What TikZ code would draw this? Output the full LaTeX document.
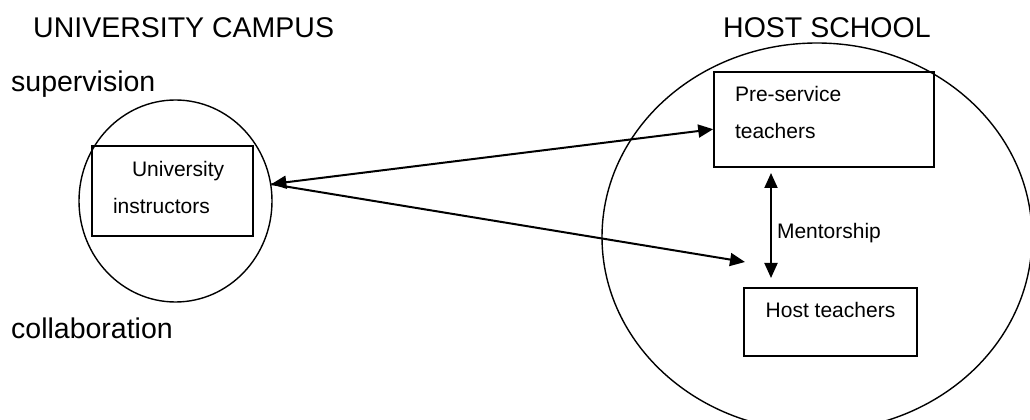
\documentclass[tikz,border=0pt]{standalone}
\usepackage{fontspec}
\setmainfont{Liberation Sans}
\usepackage{tikz}
\usetikzlibrary{positioning,shapes.geometric,arrows.meta}

\begin{document}
\begin{tikzpicture}[
    x=1pt, y=1pt,
    zone/.style={
      ellipse, draw=black, line width=1.4pt, inner sep=0pt
    },
    box/.style={
      rectangle, draw=black, line width=1.6pt,
      font=\fontsize{21}{37}\selectfont
    },
    heading/.style={anchor=base west, inner sep=0pt, font=\fontsize{28.5}{34}\selectfont},
    arrow/.style={line width=2pt, -{Triangle[length=15pt,width=13pt]}},
    twoway/.style={line width=2pt, {Triangle[length=15pt,width=13pt]}-{Triangle[length=15pt,width=13pt]}}
  ]
  \useasboundingbox (0,0) rectangle (1030,420);
  \clip (0,0) rectangle (1030,420);

  % Headings
  \node[heading] (campusTitle) at (33,382) {UNIVERSITY CAMPUS};
  \node[heading] (schoolTitle) at (723,382) {HOST SCHOOL};
  \node[heading] (supervision) at (11,328) {supervision};
  \node[heading] (collaboration) at (11,81) {collaboration};

  % Left: university campus
  \node[zone, minimum width=193pt, minimum height=202pt] (campus) at (175.5,219) {};
  \node[box, minimum width=161pt, minimum height=90pt, text width=119pt, inner xsep=21pt,
        align=left, text height=15pt, text depth=43pt] (instructors) at (172.5,229) {\hspace*{19pt}University\\instructors};

  % Right: host school
  \node[zone, minimum width=430pt, minimum height=388pt] (school) at (817,183) {};
  \node[box, minimum width=220pt, minimum height=95pt, text width=178pt, inner xsep=21pt,
        align=left, text height=15pt, text depth=50pt] (preservice) at (824,300.5) {Pre-service\\teachers};
  \node[box, minimum width=173pt, minimum height=68pt, text height=15pt, text depth=23pt] (host) at (830.5,98) {Host teachers};

  % Connectors
  \coordinate (campusTip) at (campus.10);
  \coordinate (hostIn) at (745,158);
  \coordinate (mentorTop) at (771,247);
  \coordinate (mentorBottom) at (771,142);
  \draw[twoway] (campusTip) -- (preservice.185);
  \draw[arrow] (campusTip) -- (hostIn);
  \draw[twoway] (mentorTop) -- node (mentorLabel) [right, pos=0.57, inner sep=5pt, font=\fontsize{21}{25}\selectfont] {Mentorship} (mentorBottom);

\end{tikzpicture}
\end{document}
